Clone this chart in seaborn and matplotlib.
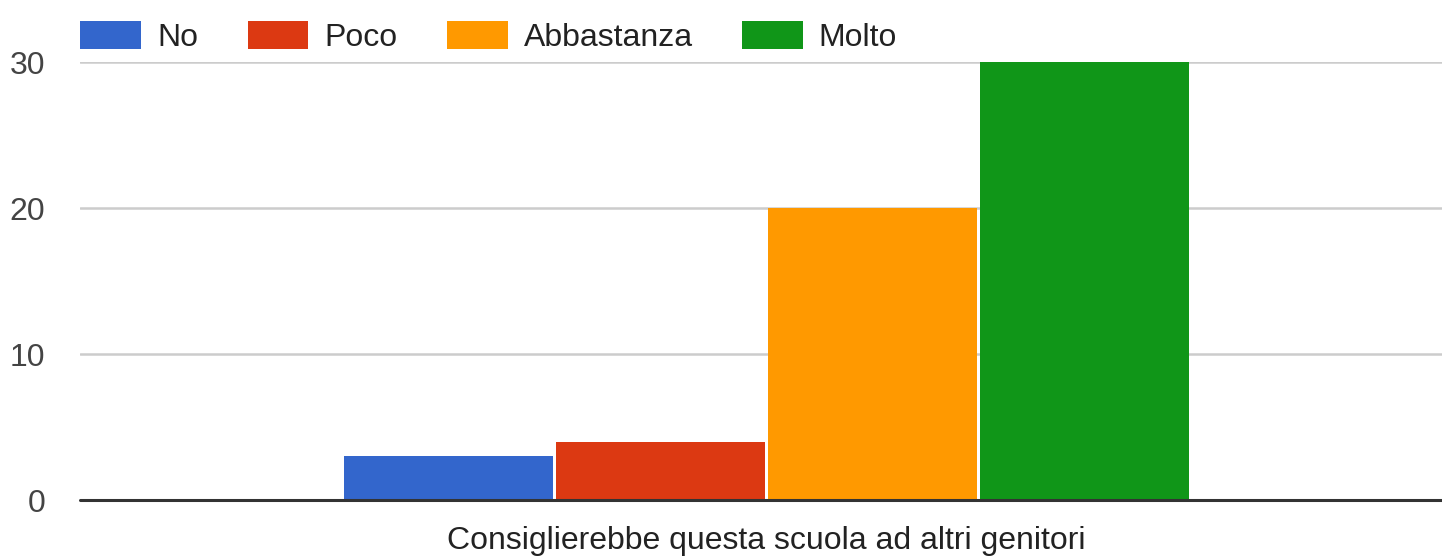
import matplotlib
matplotlib.use("Agg")
import matplotlib.pyplot as plt
import seaborn as sns
import pandas as pd

question = ["Consiglierebbe questa scuola ad altri genitori"]
levels = ["No", "Poco", "Abbastanza", "Molto"]
values = [3, 4, 20, 30]
colors = ["#3366cc", "#dc3912", "#ff9900", "#109618"]
yticks = [0, 10, 20, 30]

df = pd.DataFrame({"q": question * len(levels), "level": levels, "v": values})

sns.set_style("white")
plt.rcParams["font.family"] = ["Liberation Sans", "DejaVu Sans"]

fig = plt.figure(figsize=(14.42, 5.56), dpi=100)
ax = fig.add_axes([80 / 1442, 1 - 500 / 556, 1 - 80 / 1442, (500 - 62) / 556])

sns.barplot(data=df, x="q", y="v", hue="level", hue_order=levels,
            palette=colors, width=0.623, gap=0.014, saturation=1,
            linewidth=0, ax=ax, zorder=3)

ax.set_ylim(0, 30)
ax.set_xlim(-0.504, 0.496)
ax.set_yticks(yticks)
ax.set_yticklabels([str(t) for t in yticks])
ax.yaxis.grid(True, color="#cccccc", linewidth=1.8, zorder=0)
ax.set_axisbelow(True)
ax.axhline(0, color="#333333", linewidth=2.2, zorder=4, clip_on=False)
for s in ax.spines.values():
    s.set_visible(False)
ax.tick_params(axis="y", length=0, pad=25, labelsize=23, labelcolor="#444444")
ax.tick_params(axis="x", length=0, pad=18.5, labelsize=23, labelcolor="#222222")
ax.set_xlabel("")
ax.set_ylabel("")

handles, labels = ax.get_legend_handles_labels()
ax.get_legend().remove()
fig.legend(handles, labels, loc="upper left",
           bbox_to_anchor=(74 / 1442, 1 - 15 / 556), ncol=4, frameon=False,
           fontsize=23, labelcolor="#222222", handlelength=1.9, handleheight=0.95,
           handletextpad=0.5, columnspacing=1.55, borderaxespad=0, borderpad=0.2)

fig.savefig("out.png", dpi=100)
